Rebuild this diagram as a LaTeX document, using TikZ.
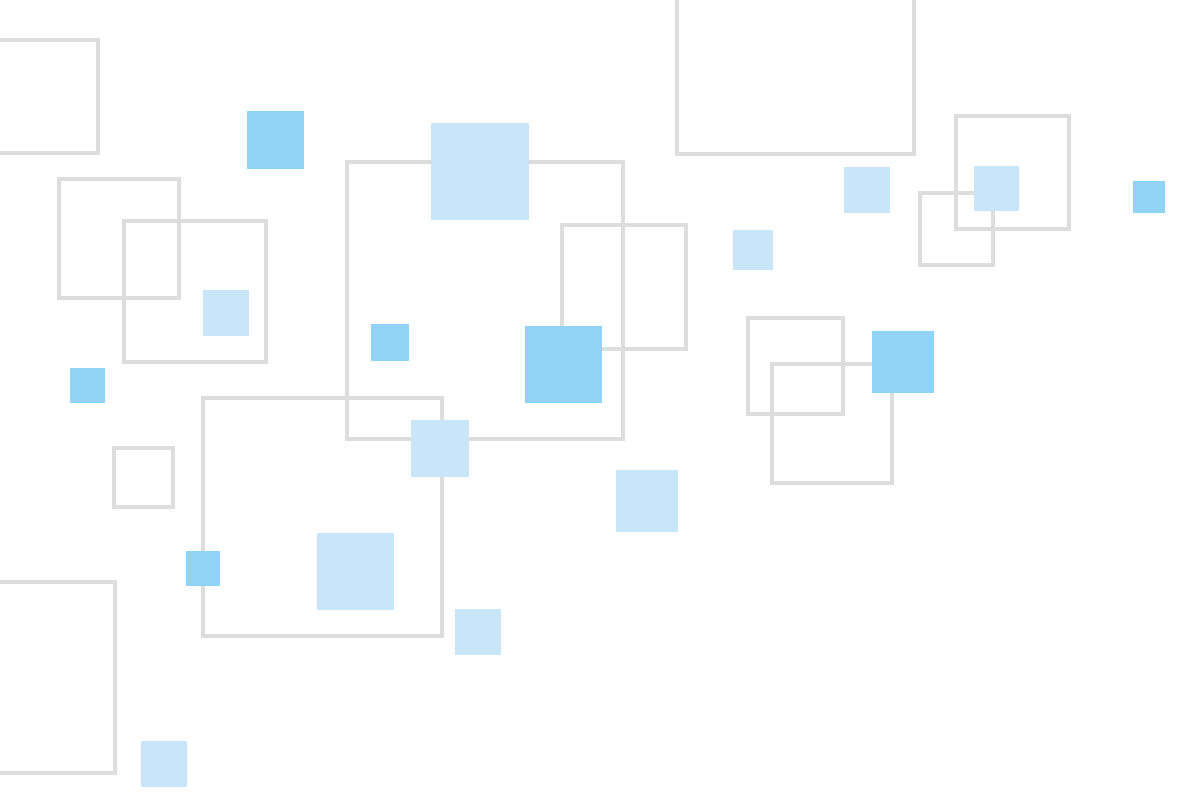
\documentclass[tikz,border=0pt]{standalone}
\definecolor{framegray}{HTML}{DDDDDD}
\definecolor{paleblue}{HTML}{C7E6F8}
\definecolor{skyblue}{HTML}{90D3F4}
\tikzset{
  frame/.style={draw=framegray,line width=3.2pt},
  palesq/.style={fill=paleblue},
  skysq/.style={fill=skyblue}
}
\begin{document}
\begin{tikzpicture}[x=1pt,y=-1pt]
    \useasboundingbox (0,0) rectangle (1193,804);
    % outlines
    \foreach \xa/\ya/\xb/\yb in {-10/40/98/153, 59/179/179/298, 124/221/266/362,
        347/162/623/439, 562/225/686/349, 203/398/442/636, 114/448/173/507,
        -10/582/115/773, 677/-10/914/154, 956/116/1069/229, 920/193/993/265,
        748/318/843/414, 772/364/892/483}
        \draw[frame] (\xa,\ya) rectangle (\xb,\yb);
    % pale squares
    \foreach \xa/\ya/\xb/\yb in {203/290/249/336, 431/123/529/220, 411/420/469/477,
        317/533/394/610, 455/609/501/655, 616/470/678/532, 141/741/187/787,
        733/230/773/270, 844/167/890/213, 974/166/1019/211}
        \fill[palesq] (\xa,\ya) rectangle (\xb,\yb);
    % sky squares
    \foreach \xa/\ya/\xb/\yb in {247/111/304/169, 70/368/105/403, 371/324/409/361,
        525/326/602/403, 186/551/220/586, 872/331/934/393, 1133/181/1165/213}
        \fill[skysq] (\xa,\ya) rectangle (\xb,\yb);
\end{tikzpicture}
\end{document}
